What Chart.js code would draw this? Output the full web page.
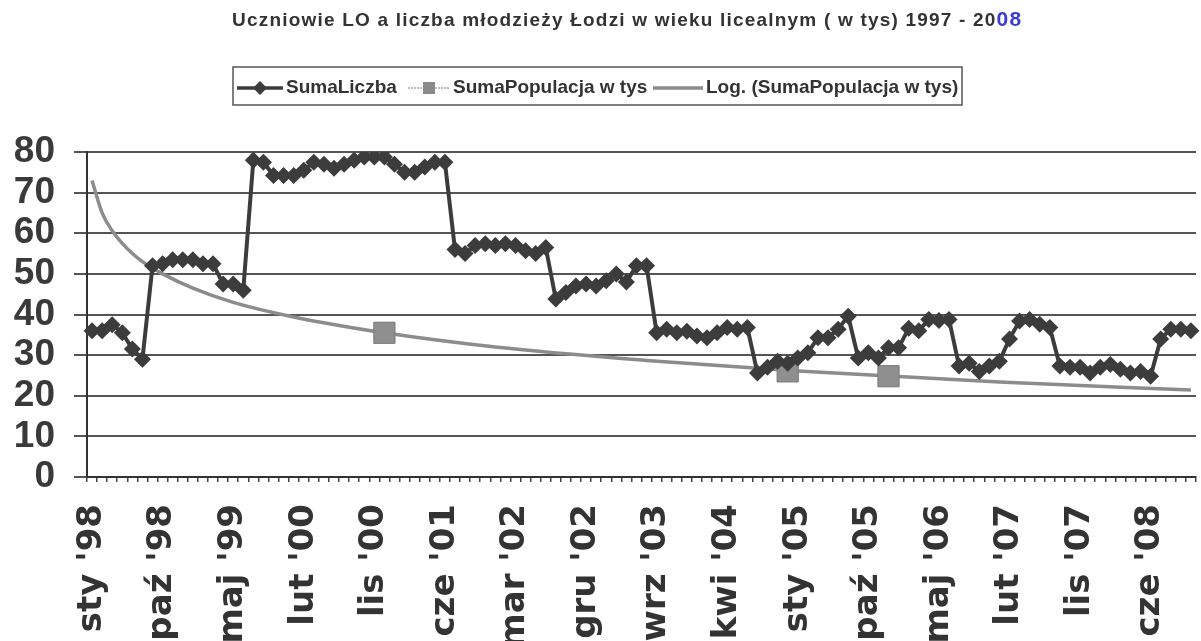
<!DOCTYPE html>
<html lang="pl">
<head>
<meta charset="utf-8">
<title>Uczniowie LO a liczba młodzieży Łodzi</title>
<script src="https://cdn.jsdelivr.net/npm/chart.js@4/dist/chart.umd.min.js"></script>
<style>
  html, body { margin: 0; padding: 0; overflow: hidden; background: #fff; }
  canvas { display: block; }
</style>
</head>
<body>
<canvas id="chart" width="1212" height="641"></canvas>
<script>
// Miesiące szkolne (bez lipca i sierpnia) i lata
const months = ['sty', 'lut', 'mar', 'kwi', 'maj', 'cze', 'wrz', 'paź', 'lis', 'gru'];
const years = ["'98", "'99", "'00", "'01", "'02", "'03", "'04", "'05", "'06", "'07", "'08"];
const labelEvery = 7;

// SumaLiczba
const sumaLiczba = [
    36, 36, 37.5, 35.5, 31.5, 29, 52, 52.5, 53.5, 53.5,
    53.5, 52.5, 52.5, 47.5, 47.5, 46, 78, 77.5, 74.2, 74.2,
    74.2, 75.5, 77.5, 77, 76, 77, 78, 78.8, 78.8, 78.8,
    77, 75, 75, 76.3, 77.5, 77.5, 56, 55, 57, 57.4,
    57, 57.4, 57, 55.7, 55, 56.5, 43.8, 45.4, 47, 47.5,
    47, 48.3, 50, 48, 52, 52, 35.5, 36.4, 35.5, 35.9,
    34.7, 34.3, 35.5, 36.8, 36.4, 36.8, 25.6, 27, 28.5, 28,
    29.3, 30.6, 34.3, 34.3, 36.4, 39.6, 29.3, 30.6, 29.3, 31.8,
    31.8, 36.6, 36, 38.8, 38.5, 38.8, 27.3, 28, 26, 27.3,
    28.5, 34, 38.4, 38.8, 37.6, 36.8, 27.3, 27, 27, 25.6,
    27, 27.7, 26.5, 25.6, 26, 24.8, 34, 36.4, 36.4, 36
];

// SumaPopulacja w tys - tylko trzy widoczne punkty
const populacjaIdx = [29, 69, 79];
const populacjaVal = [35.5, 26, 24.8];

// Linia trendu (log.) - odczyty z wykresu w wybranych punktach
const trendIdx = [0, 1, 2, 3, 4, 5, 7, 10, 14, 20, 29, 40, 55, 70, 90, 109];
const trendVal = [73, 65, 60.6, 57.5, 55, 53, 50, 46.5, 43, 39.4, 35.5, 32, 28.7, 26.1, 23.4, 21.4];

const categories = years.flatMap(y => months.map(m => m + ' ' + y)).slice(0, sumaLiczba.length);

function sparse(idx, vals) {
    const arr = categories.map(() => null);
    idx.forEach((i, k) => { arr[i] = vals[k]; });
    return arr;
}

// Tytuł i legenda rysowane ręcznie
const headerPlugin = {
    id: 'header',
    beforeDraw(chart) {
        const ctx = chart.ctx;
        ctx.save();
        ctx.fillStyle = '#ffffff';
        ctx.fillRect(0, 0, chart.width, chart.height);
        ctx.restore();
    },
    afterDraw(chart) {
        const ctx = chart.ctx;
        ctx.save();
        // tytuł
        ctx.textBaseline = 'middle';
        ctx.textAlign = 'left';
        ctx.font = 'bold 19px "Liberation Sans", Arial, sans-serif';
        ctx.letterSpacing = '1.2px';
        ctx.fillStyle = '#333';
        const t1 = 'Uczniowie LO a liczba młodzieży Łodzi w wieku licealnym ( w tys) 1997 - 20';
        ctx.fillText(t1, 232, 21);
        const w1 = ctx.measureText(t1).width;
        ctx.fillStyle = '#3b3bd6';
        ctx.font = 'bold 21px "Liberation Sans", Arial, sans-serif';
        ctx.fillText('08', 232 + w1, 20);
        ctx.letterSpacing = '0px';

        // legenda
        const cy = 88;
        ctx.strokeStyle = '#555';
        ctx.lineWidth = 1.5;
        ctx.strokeRect(233, 67, 729, 38);
        ctx.font = 'bold 19px "Liberation Sans", Arial, sans-serif';

        // SumaLiczba
        ctx.strokeStyle = '#3c3c3c';
        ctx.lineWidth = 3.5;
        ctx.beginPath(); ctx.moveTo(237, cy); ctx.lineTo(283, cy); ctx.stroke();
        ctx.fillStyle = '#3c3c3c';
        ctx.beginPath();
        ctx.moveTo(260, cy - 7); ctx.lineTo(267, cy); ctx.lineTo(260, cy + 7); ctx.lineTo(253, cy);
        ctx.closePath(); ctx.fill();
        ctx.fillStyle = '#333';
        ctx.fillText('SumaLiczba', 286, cy);

        // SumaPopulacja w tys
        ctx.strokeStyle = '#777';
        ctx.lineWidth = 1;
        ctx.setLineDash([2, 1]);
        ctx.beginPath(); ctx.moveTo(408, cy); ctx.lineTo(450, cy); ctx.stroke();
        ctx.setLineDash([]);
        ctx.fillStyle = '#8a8a8a';
        ctx.fillRect(423, cy - 6, 12, 12);
        ctx.fillStyle = '#333';
        ctx.fillText('SumaPopulacja w tys', 453, cy);

        // Log. trend
        ctx.strokeStyle = '#8c8c8c';
        ctx.lineWidth = 3.5;
        ctx.beginPath(); ctx.moveTo(653, cy); ctx.lineTo(703, cy); ctx.stroke();
        ctx.fillStyle = '#333';
        ctx.fillText('Log. (SumaPopulacja w tys)', 706, cy);
        ctx.restore();
    }
};

document.addEventListener('DOMContentLoaded', function() {
    const ctx = document.getElementById('chart').getContext('2d');
    new Chart(ctx, {
        type: 'line',
        data: {
            labels: categories,
            datasets: [
                {
                    label: 'Log. (SumaPopulacja w tys)',
                    data: sparse(trendIdx, trendVal),
                    borderColor: '#8c8c8c',
                    borderWidth: 3.5,
                    pointRadius: 0,
                    spanGaps: true,
                    cubicInterpolationMode: 'monotone',
                    order: 3
                },
                {
                    label: 'SumaPopulacja w tys',
                    data: sparse(populacjaIdx, populacjaVal),
                    showLine: false,
                    pointStyle: 'rect',
                    pointRadius: 15,
                    backgroundColor: '#8f8f8f',
                    borderColor: '#7a7a7a',
                    borderWidth: 1,
                    order: 2
                },
                {
                    label: 'SumaLiczba',
                    data: sumaLiczba,
                    borderColor: '#3c3c3c',
                    borderWidth: 4,
                    pointStyle: 'rectRot',
                    pointRadius: 8.5,
                    backgroundColor: '#3c3c3c',
                    pointBorderWidth: 0,
                    tension: 0,
                    order: 1
                }
            ]
        },
        options: {
            responsive: false,
            animation: false,
            layout: { padding: { top: 152, right: 3, left: 0, bottom: 0 } },
            plugins: {
                legend: { display: false },
                title: { display: false },
                tooltip: { enabled: false }
            },
            scales: {
                x: {
                    type: 'category',
                    offset: true,
                    grid: {
                        offset: true,
                        drawOnChartArea: false,
                        drawTicks: true,
                        tickLength: 5,
                        color: '#444',
                        lineWidth: 1.5
                    },
                    border: { display: true, color: '#333', width: 2 },
                    ticks: {
                        autoSkip: false,
                        maxRotation: 90,
                        minRotation: 90,
                        padding: 22,
                        color: '#333',
                        font: { family: '"DejaVu Sans", sans-serif', weight: 'bold', size: 34 },
                        callback: (value, index) => index % labelEvery === 0 ? categories[index] : ''
                    },
                    afterFit: (scale) => {
                        scale.height = 164;
                        scale.paddingLeft = 0;
                        scale.paddingRight = 0;
                    }
                },
                y: {
                    min: 0,
                    max: 80,
                    grid: {
                        color: '#555',
                        lineWidth: 2,
                        drawTicks: true,
                        tickLength: 13
                    },
                    border: { display: true, color: '#333', width: 2 },
                    ticks: {
                        stepSize: 10,
                        autoSkip: false,
                        padding: 19,
                        color: '#3a3a3a',
                        font: { family: '"Liberation Sans", Arial, sans-serif', weight: 'bold', size: 37 }
                    },
                    afterFit: (scale) => { scale.width = 87; }
                }
            }
        },
        plugins: [headerPlugin]
    });
});
</script>
</body>
</html>
